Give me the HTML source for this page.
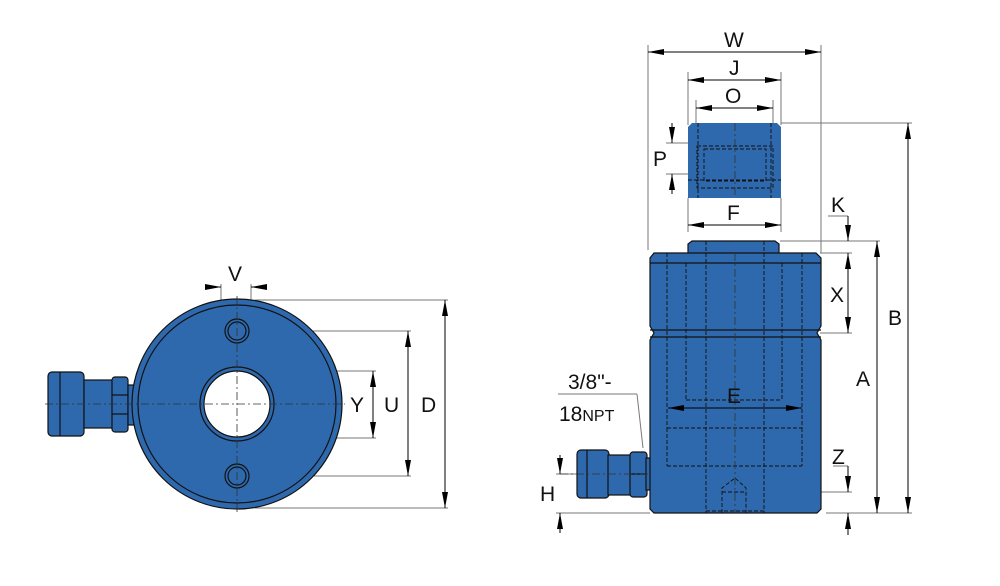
<!DOCTYPE html>
<html><head><style>body{margin:0;background:#fff}svg{display:block}text{font-family:"Liberation Sans",sans-serif;fill:#111}</style></head>
<body>
<svg width="1000" height="586" viewBox="0 0 1000 586" xmlns="http://www.w3.org/2000/svg">
<defs>
<marker id="a" viewBox="0 0 16 6" refX="16" refY="3" markerWidth="16" markerHeight="6" orient="auto" markerUnits="userSpaceOnUse"><path d="M0,0 L16,3 L0,6 z" fill="#000"/></marker>
</defs>
<g stroke="#777" stroke-width="1" fill="none">
<line x1="221" y1="284" x2="221" y2="330"/><line x1="251" y1="284" x2="251" y2="330"/>
<line x1="255" y1="300" x2="448" y2="300"/><line x1="255" y1="508" x2="448" y2="508"/>
<line x1="250" y1="331" x2="411" y2="331"/><line x1="250" y1="476" x2="411" y2="476"/>
<line x1="255" y1="371" x2="376" y2="371"/><line x1="255" y1="438" x2="376" y2="438"/>
<line x1="648" y1="45" x2="648" y2="250"/><line x1="821" y1="45" x2="821" y2="253"/>
<line x1="688" y1="72" x2="688" y2="125"/><line x1="781" y1="72" x2="781" y2="125"/>
<line x1="696" y1="100" x2="696" y2="125"/><line x1="773" y1="100" x2="773" y2="125"/>
<line x1="688" y1="198" x2="688" y2="232"/><line x1="781" y1="198" x2="781" y2="232"/>
<line x1="781" y1="123" x2="912" y2="123"/>
<line x1="666" y1="143" x2="695" y2="143"/><line x1="666" y1="174" x2="695" y2="174"/>
<line x1="780" y1="241" x2="880" y2="241"/><line x1="820" y1="253" x2="852" y2="253"/>
<line x1="820" y1="333" x2="852" y2="333"/>
<line x1="826" y1="513" x2="912" y2="513"/>
<line x1="735" y1="492" x2="852" y2="492"/>
<line x1="828" y1="216" x2="848" y2="216"/><line x1="833" y1="466" x2="848" y2="466"/>
<line x1="556" y1="474" x2="648" y2="474"/><line x1="556" y1="513" x2="650" y2="513"/>
<line x1="558" y1="394" x2="637" y2="394"/><line x1="637" y1="394" x2="643" y2="448"/>
</g>
<g stroke="#000" stroke-width="1" fill="none" marker-end="url(#a)">
<line x1="205" y1="287" x2="221" y2="287"/><line x1="267" y1="287" x2="251" y2="287"/>
<line x1="445" y1="404" x2="445" y2="300"/><line x1="445" y1="404" x2="445" y2="508"/>
<line x1="408" y1="404" x2="408" y2="331"/><line x1="408" y1="404" x2="408" y2="476"/>
<line x1="373" y1="404" x2="373" y2="371"/><line x1="373" y1="404" x2="373" y2="438"/>
<line x1="735" y1="52" x2="648" y2="52"/><line x1="735" y1="52" x2="821" y2="52"/>
<line x1="735" y1="80" x2="688" y2="80"/><line x1="735" y1="80" x2="781" y2="80"/>
<line x1="735" y1="108" x2="696" y2="108"/><line x1="735" y1="108" x2="773" y2="108"/>
<line x1="735" y1="225" x2="688" y2="225"/><line x1="735" y1="225" x2="781" y2="225"/>
<line x1="672" y1="123" x2="672" y2="143"/><line x1="672" y1="194" x2="672" y2="174"/>
<line x1="908" y1="318" x2="908" y2="123"/><line x1="908" y1="318" x2="908" y2="513"/>
<line x1="877" y1="377" x2="877" y2="241"/><line x1="877" y1="377" x2="877" y2="513"/>
<line x1="848" y1="293" x2="848" y2="253"/><line x1="848" y1="293" x2="848" y2="333"/>
<line x1="848" y1="216" x2="848" y2="241"/>
<line x1="848" y1="466" x2="848" y2="492"/><line x1="848" y1="535" x2="848" y2="513"/>
<line x1="560" y1="455" x2="560" y2="474"/><line x1="560" y1="533" x2="560" y2="513"/>
</g>
<line x1="848" y1="513" x2="848" y2="535" stroke="#000"/>
<!-- LEFT VIEW -->
<g stroke="#111" stroke-width="1.2" fill="#2e69ad">
<rect x="48" y="372" width="36" height="64" rx="4"/>
<line x1="60" y1="372" x2="60" y2="436"/>
<rect x="84" y="380" width="30" height="48"/>
<rect x="112" y="377" width="16" height="55" rx="3"/>
<line x1="112" y1="395" x2="128" y2="395"/><line x1="112" y1="414" x2="128" y2="414"/>
<rect x="128" y="385" width="6" height="40"/>
<circle cx="237" cy="404" r="105"/>
<circle cx="237" cy="404" r="99" fill="none"/>
<circle cx="237" cy="404" r="37"/>
<circle cx="237" cy="404" r="33" fill="#fff"/>
<circle cx="237" cy="331" r="12"/><circle cx="237" cy="331" r="9"/>
<circle cx="237" cy="476" r="12"/><circle cx="237" cy="476" r="9"/>
</g>
<g stroke="#333" stroke-width="0.8" stroke-dasharray="8,3,2,3">
<line x1="45" y1="404" x2="345" y2="404"/><line x1="237" y1="296" x2="237" y2="512"/>
</g>
<!-- RIGHT VIEW -->
<g stroke="#111" stroke-width="1.2" fill="#2e69ad">
<rect x="577" y="450" width="32" height="48" rx="4"/>
<line x1="587" y1="450" x2="587" y2="498"/>
<rect x="608" y="455" width="24" height="40"/>
<rect x="630" y="452" width="17" height="45" rx="3"/>
<line x1="630" y1="474" x2="647" y2="474"/>
<rect x="646" y="458" width="5" height="32"/>
<path d="M692,241 H775 L779,244 V254 H688 V244 Z"/>
<path d="M654,253 H816 L821,258 V326 L817,333 L821,340 V509 L817,513 H654 L650,509 V340 L654,333 L650,326 V258 Z"/>
<line x1="650" y1="263" x2="821" y2="263"/>
<line x1="650" y1="330" x2="821" y2="330"/><line x1="650" y1="337" x2="821" y2="337"/>
<path d="M692,123 H777 L781,127 V198 H688 V127 Z" stroke="none"/>
</g>
<g stroke="#111" stroke-width="0.9" fill="none" stroke-dasharray="4,2">
<line x1="667" y1="253" x2="667" y2="428"/><line x1="802" y1="253" x2="802" y2="428"/>
<line x1="686" y1="263" x2="686" y2="400"/><line x1="782" y1="263" x2="782" y2="400"/>
<line x1="706" y1="241" x2="706" y2="513"/><line x1="764" y1="241" x2="764" y2="513"/>
<line x1="667" y1="428" x2="802" y2="428"/><line x1="667" y1="466" x2="802" y2="466"/>
<line x1="667" y1="428" x2="667" y2="466"/><line x1="802" y1="428" x2="802" y2="466"/>
<line x1="686" y1="400" x2="782" y2="400"/>
<path d="M722,513 V488 L735,478 L746,488 V513"/><line x1="722" y1="492" x2="746" y2="492"/>
<line x1="706" y1="511" x2="764" y2="511"/>
<rect x="697" y="146" width="76" height="42"/><rect x="704" y="149" width="62" height="32"/>
<line x1="698" y1="123" x2="698" y2="198"/><line x1="771" y1="123" x2="771" y2="198"/>
<line x1="688" y1="180" x2="781" y2="180"/>
</g>
<g stroke="#333" stroke-width="0.8" stroke-dasharray="8,3,2,3">
<line x1="735" y1="253" x2="735" y2="513"/><line x1="735" y1="123" x2="735" y2="198"/>
<line x1="560" y1="474" x2="650" y2="474"/>
</g>
<g stroke="#000" stroke-width="1" fill="none" marker-end="url(#a)">
<line x1="735" y1="408" x2="668" y2="408"/><line x1="735" y1="408" x2="802" y2="408"/>
</g>
<g font-size="21">
<text x="228" y="281">V</text>
<text x="350" y="412">Y</text>
<text x="384" y="412">U</text>
<text x="421" y="412">D</text>
<text x="724" y="47">W</text>
<text x="729" y="75">J</text>
<text x="725" y="103">O</text>
<text x="727" y="220">F</text>
<text x="653" y="166">P</text>
<text x="831" y="212">K</text>
<text x="830" y="302">X</text>
<text x="856" y="386">A</text>
<text x="888" y="325">B</text>
<text x="727" y="403">E</text>
<text x="832" y="464">Z</text>
<text x="540" y="501">H</text>
<text x="568" y="389">3/8"-</text>
<text x="559" y="421">18<tspan font-size="16">NPT</tspan></text>
</g>
</svg>
</body></html>
